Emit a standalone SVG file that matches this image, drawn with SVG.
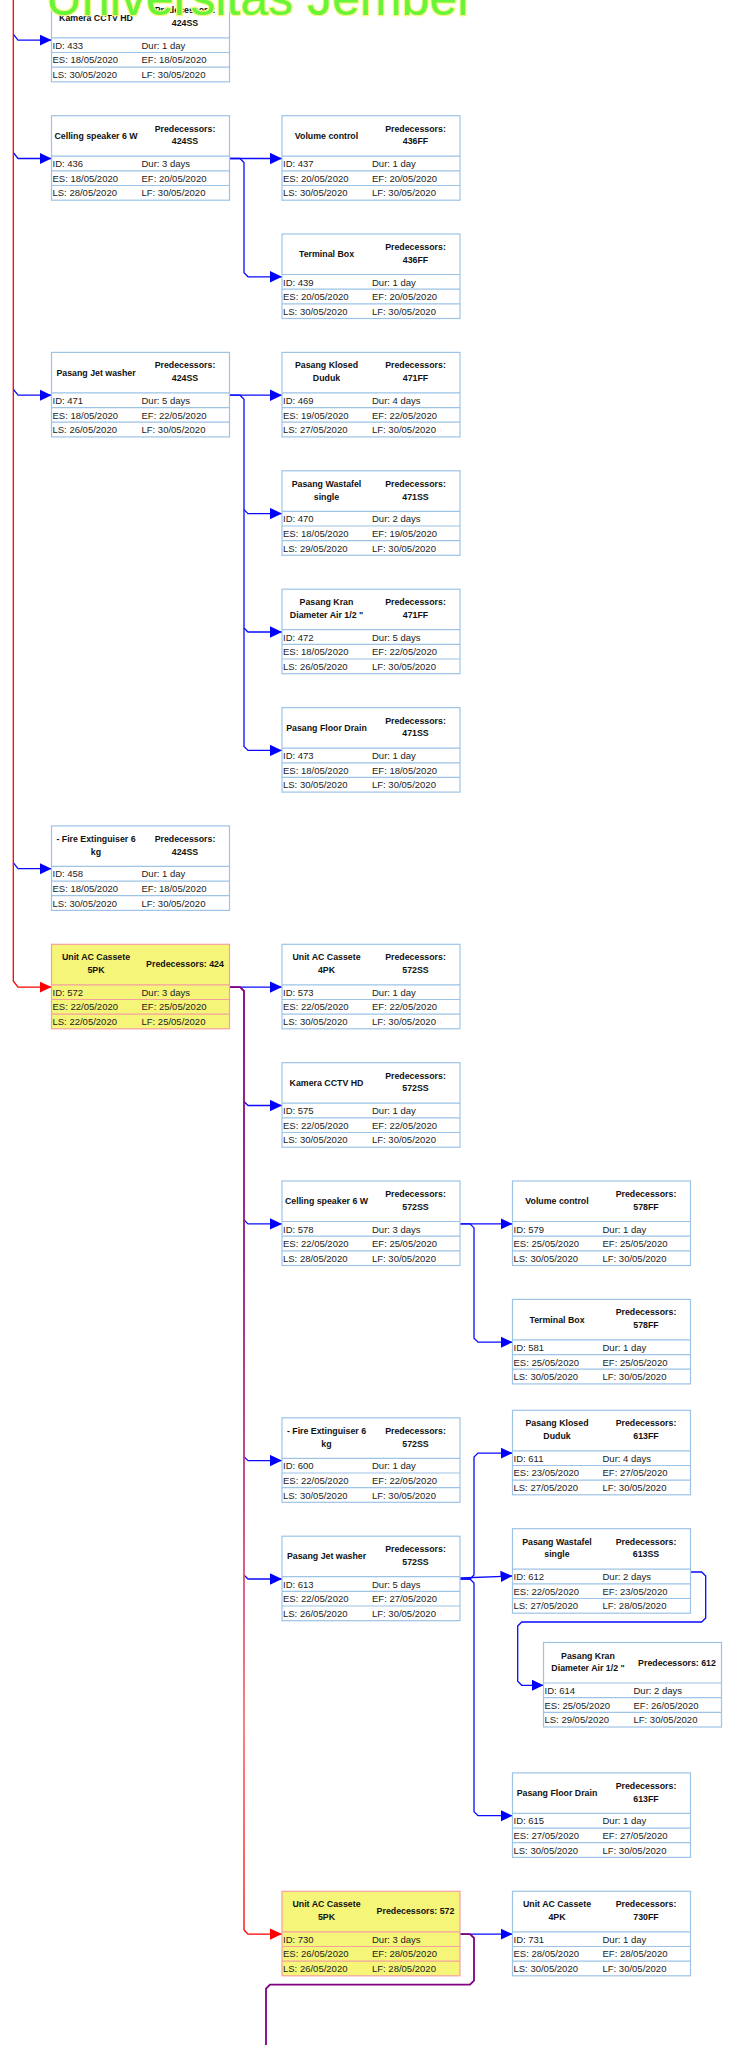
<svg xmlns="http://www.w3.org/2000/svg" width="731" height="2045" viewBox="0 0 731 2045">
<style>
.b{fill:#ffffff;stroke:#9dc3e6;stroke-width:1.2}
.y{fill:#f5f57a;stroke:#f4a0a0;stroke-width:1.2}
.s{fill:none;stroke:#9dc3e6;stroke-width:1.2}
.sy{fill:none;stroke:#f4a0a0;stroke-width:1.2}
.h{font-family:"Liberation Sans",Arial,sans-serif;font-size:8.8px;font-weight:bold;fill:#111;text-anchor:middle}
.t{font-family:"Liberation Sans",Arial,sans-serif;font-size:9.5px;fill:#222}
.cb{fill:none;stroke:#0a0aff;stroke-width:1.3}
.cr{fill:none;stroke:#ff0000;stroke-width:1.3}
.cp{fill:none;stroke:#800080;stroke-width:1.8}
.wm{font-family:"Liberation Sans",Arial,sans-serif;font-size:50px;fill:#66f53a;stroke:#f6f680;stroke-width:2.5;paint-order:stroke}
</style>
<defs>
<marker id="ab" markerUnits="userSpaceOnUse" markerWidth="12" markerHeight="12" refX="12" refY="6" orient="auto"><path d="M0,0.3 L12,6 L0,11.7z" fill="#0000ff"/></marker>
<marker id="ar" markerUnits="userSpaceOnUse" markerWidth="12" markerHeight="12" refX="12" refY="6" orient="auto"><path d="M0,0.3 L12,6 L0,11.7z" fill="#ff0000"/></marker>
<linearGradient id="gp" gradientUnits="userSpaceOnUse" x1="0" y1="991" x2="0" y2="1934">
<stop offset="0" stop-color="#800080"/>
<stop offset="0.3" stop-color="#901a88"/>
<stop offset="0.55" stop-color="#c8407e"/>
<stop offset="0.78" stop-color="#ff7075"/>
<stop offset="1" stop-color="#ff4040"/>
</linearGradient>
</defs>
<rect width="731" height="2045" fill="#ffffff"/>

<g id="connectors">
<path class="cb" d="M13.3,34.1 L18,40.1 H51.5" marker-end="url(#ab)"/>
<path class="cb" d="M13.3,152.5 L18,158.5 H51.5" marker-end="url(#ab)"/>
<path class="cb" d="M13.3,389.2 L18,395.2 H51.5" marker-end="url(#ab)"/>
<path class="cb" d="M13.3,862.7 L18,868.7 H51.5" marker-end="url(#ab)"/>
<path class="cr" d="M13.3,0 V981 L18,987.1 H51.5" marker-end="url(#ar)"/>

<path class="cb" d="M229.5,158.5 H282" marker-end="url(#ab)"/>
<path class="cb" d="M229.5,158.5 H240 L244,162.5 V272.8 L248,276.8 H282" marker-end="url(#ab)"/>

<path class="cb" d="M229.5,395.2 H282" marker-end="url(#ab)"/>
<path class="cb" d="M229.5,395.2 H240 L244,399.2 V509.6 L248,513.6 H282" marker-end="url(#ab)"/>
<path class="cb" d="M244,509.6 V628 L248,632 H282" marker-end="url(#ab)"/>
<path class="cb" d="M244,628 V746.4 L248,750.4 H282" marker-end="url(#ab)"/>

<path class="cb" d="M229.5,987.1 H282" marker-end="url(#ab)"/>
<path class="cb" d="M244,1101.5 L248,1105.5 H282" marker-end="url(#ab)"/>
<path class="cb" d="M244,1219.9 L248,1223.9 H282" marker-end="url(#ab)"/>
<path class="cb" d="M244,1456.6 L248,1460.6 H282" marker-end="url(#ab)"/>
<path class="cb" d="M244,1575 L248,1579 H282" marker-end="url(#ab)"/>
<path fill="none" stroke="url(#gp)" stroke-width="1.8" d="M229.5,987.1 H240 L244,991 V1930"/>
<path class="cr" d="M244,1930 L248,1934.1 H282" marker-end="url(#ar)"/>

<path class="cb" d="M460,1223.9 H512.5" marker-end="url(#ab)"/>
<path class="cb" d="M460,1223.9 H470 L474,1227.9 V1338.2 L478,1342.2 H512.5" marker-end="url(#ab)"/>

<path class="cb" d="M460,1579 H470 L474,1575 V1457.1 L478,1453.1 H512.5" marker-end="url(#ab)"/>
<path class="cb" d="M460,1578 L512.5,1576" marker-end="url(#ab)"/>
<path class="cb" d="M460,1579 H470 L474,1583 V1811.7 L478,1815.7 H512.5" marker-end="url(#ab)"/>
<path class="cb" d="M690.5,1572 H701.7 L705.7,1576 V1618 L701.7,1622 H521.7 L517.7,1626 V1681.3 L521.7,1685.3 H543.5" marker-end="url(#ab)"/>

<path class="cb" d="M460,1934.1 H512.5" marker-end="url(#ab)"/>
<path class="cp" d="M460,1934.1 H470 L474,1938 V1980.7 L470,1984.7 H270 L266,1988.7 V2045"/>
</g>

<g id="n433" transform="translate(51.5,-2.7)">
<rect class="b" width="178" height="84.5"/><path class="s" d="M0,40.5H178M0,55.2H178M0,69.8H178"/>
<text class="h" x="44.5" y="23.3">Kamera CCTV HD</text>
<text class="h" x="133.5" y="16">Predecessors:</text><text class="h" x="133.5" y="28.8">424SS</text>
<text class="t" x="1" y="51.5">ID: 433</text><text class="t" x="90" y="51.5">Dur: 1 day</text>
<text class="t" x="1" y="66.2">ES: 18/05/2020</text><text class="t" x="90" y="66.2">EF: 18/05/2020</text>
<text class="t" x="1" y="80.8">LS: 30/05/2020</text><text class="t" x="90" y="80.8">LF: 30/05/2020</text>
</g>

<g id="n436" transform="translate(51.5,115.7)">
<rect class="b" width="178" height="84.5"/><path class="s" d="M0,40.5H178M0,55.2H178M0,69.8H178"/>
<text class="h" x="44.5" y="23.3">Celling speaker 6 W</text>
<text class="h" x="133.5" y="16">Predecessors:</text><text class="h" x="133.5" y="28.8">424SS</text>
<text class="t" x="1" y="51.5">ID: 436</text><text class="t" x="90" y="51.5">Dur: 3 days</text>
<text class="t" x="1" y="66.2">ES: 18/05/2020</text><text class="t" x="90" y="66.2">EF: 20/05/2020</text>
<text class="t" x="1" y="80.8">LS: 28/05/2020</text><text class="t" x="90" y="80.8">LF: 30/05/2020</text>
</g>

<g id="n437" transform="translate(282,115.7)">
<rect class="b" width="178" height="84.5"/><path class="s" d="M0,40.5H178M0,55.2H178M0,69.8H178"/>
<text class="h" x="44.5" y="23.3">Volume control</text>
<text class="h" x="133.5" y="16">Predecessors:</text><text class="h" x="133.5" y="28.8">436FF</text>
<text class="t" x="1" y="51.5">ID: 437</text><text class="t" x="90" y="51.5">Dur: 1 day</text>
<text class="t" x="1" y="66.2">ES: 20/05/2020</text><text class="t" x="90" y="66.2">EF: 20/05/2020</text>
<text class="t" x="1" y="80.8">LS: 30/05/2020</text><text class="t" x="90" y="80.8">LF: 30/05/2020</text>
</g>

<g id="n439" transform="translate(282,234)">
<rect class="b" width="178" height="84.5"/><path class="s" d="M0,40.5H178M0,55.2H178M0,69.8H178"/>
<text class="h" x="44.5" y="23.3">Terminal Box</text>
<text class="h" x="133.5" y="16">Predecessors:</text><text class="h" x="133.5" y="28.8">436FF</text>
<text class="t" x="1" y="51.5">ID: 439</text><text class="t" x="90" y="51.5">Dur: 1 day</text>
<text class="t" x="1" y="66.2">ES: 20/05/2020</text><text class="t" x="90" y="66.2">EF: 20/05/2020</text>
<text class="t" x="1" y="80.8">LS: 30/05/2020</text><text class="t" x="90" y="80.8">LF: 30/05/2020</text>
</g>

<g id="n471" transform="translate(51.5,352.4)">
<rect class="b" width="178" height="84.5"/><path class="s" d="M0,40.5H178M0,55.2H178M0,69.8H178"/>
<text class="h" x="44.5" y="23.3">Pasang Jet washer</text>
<text class="h" x="133.5" y="16">Predecessors:</text><text class="h" x="133.5" y="28.8">424SS</text>
<text class="t" x="1" y="51.5">ID: 471</text><text class="t" x="90" y="51.5">Dur: 5 days</text>
<text class="t" x="1" y="66.2">ES: 18/05/2020</text><text class="t" x="90" y="66.2">EF: 22/05/2020</text>
<text class="t" x="1" y="80.8">LS: 26/05/2020</text><text class="t" x="90" y="80.8">LF: 30/05/2020</text>
</g>

<g id="n469" transform="translate(282,352.4)">
<rect class="b" width="178" height="84.5"/><path class="s" d="M0,40.5H178M0,55.2H178M0,69.8H178"/>
<text class="h" x="44.5" y="16">Pasang Klosed</text><text class="h" x="44.5" y="28.8">Duduk</text>
<text class="h" x="133.5" y="16">Predecessors:</text><text class="h" x="133.5" y="28.8">471FF</text>
<text class="t" x="1" y="51.5">ID: 469</text><text class="t" x="90" y="51.5">Dur: 4 days</text>
<text class="t" x="1" y="66.2">ES: 19/05/2020</text><text class="t" x="90" y="66.2">EF: 22/05/2020</text>
<text class="t" x="1" y="80.8">LS: 27/05/2020</text><text class="t" x="90" y="80.8">LF: 30/05/2020</text>
</g>

<g id="n470" transform="translate(282,470.8)">
<rect class="b" width="178" height="84.5"/><path class="s" d="M0,40.5H178M0,55.2H178M0,69.8H178"/>
<text class="h" x="44.5" y="16">Pasang Wastafel</text><text class="h" x="44.5" y="28.8">single</text>
<text class="h" x="133.5" y="16">Predecessors:</text><text class="h" x="133.5" y="28.8">471SS</text>
<text class="t" x="1" y="51.5">ID: 470</text><text class="t" x="90" y="51.5">Dur: 2 days</text>
<text class="t" x="1" y="66.2">ES: 18/05/2020</text><text class="t" x="90" y="66.2">EF: 19/05/2020</text>
<text class="t" x="1" y="80.8">LS: 29/05/2020</text><text class="t" x="90" y="80.8">LF: 30/05/2020</text>
</g>

<g id="n472" transform="translate(282,589.2)">
<rect class="b" width="178" height="84.5"/><path class="s" d="M0,40.5H178M0,55.2H178M0,69.8H178"/>
<text class="h" x="44.5" y="16">Pasang Kran</text><text class="h" x="44.5" y="28.8">Diameter Air 1/2 "</text>
<text class="h" x="133.5" y="16">Predecessors:</text><text class="h" x="133.5" y="28.8">471FF</text>
<text class="t" x="1" y="51.5">ID: 472</text><text class="t" x="90" y="51.5">Dur: 5 days</text>
<text class="t" x="1" y="66.2">ES: 18/05/2020</text><text class="t" x="90" y="66.2">EF: 22/05/2020</text>
<text class="t" x="1" y="80.8">LS: 26/05/2020</text><text class="t" x="90" y="80.8">LF: 30/05/2020</text>
</g>

<g id="n473" transform="translate(282,707.6)">
<rect class="b" width="178" height="84.5"/><path class="s" d="M0,40.5H178M0,55.2H178M0,69.8H178"/>
<text class="h" x="44.5" y="23.3">Pasang Floor Drain</text>
<text class="h" x="133.5" y="16">Predecessors:</text><text class="h" x="133.5" y="28.8">471SS</text>
<text class="t" x="1" y="51.5">ID: 473</text><text class="t" x="90" y="51.5">Dur: 1 day</text>
<text class="t" x="1" y="66.2">ES: 18/05/2020</text><text class="t" x="90" y="66.2">EF: 18/05/2020</text>
<text class="t" x="1" y="80.8">LS: 30/05/2020</text><text class="t" x="90" y="80.8">LF: 30/05/2020</text>
</g>

<g id="n458" transform="translate(51.5,825.9)">
<rect class="b" width="178" height="84.5"/><path class="s" d="M0,40.5H178M0,55.2H178M0,69.8H178"/>
<text class="h" x="44.5" y="16">- Fire Extinguiser 6</text><text class="h" x="44.5" y="28.8">kg</text>
<text class="h" x="133.5" y="16">Predecessors:</text><text class="h" x="133.5" y="28.8">424SS</text>
<text class="t" x="1" y="51.5">ID: 458</text><text class="t" x="90" y="51.5">Dur: 1 day</text>
<text class="t" x="1" y="66.2">ES: 18/05/2020</text><text class="t" x="90" y="66.2">EF: 18/05/2020</text>
<text class="t" x="1" y="80.8">LS: 30/05/2020</text><text class="t" x="90" y="80.8">LF: 30/05/2020</text>
</g>

<g id="n572" transform="translate(51.5,944.3)">
<rect class="y" width="178" height="84.5"/><path class="sy" d="M0,40.5H178M0,55.2H178M0,69.8H178"/>
<text class="h" x="44.5" y="16">Unit AC Cassete</text><text class="h" x="44.5" y="28.8">5PK</text>
<text class="h" x="133.5" y="23">Predecessors: 424</text>
<text class="t" x="1" y="51.5">ID: 572</text><text class="t" x="90" y="51.5">Dur: 3 days</text>
<text class="t" x="1" y="66.2">ES: 22/05/2020</text><text class="t" x="90" y="66.2">EF: 25/05/2020</text>
<text class="t" x="1" y="80.8">LS: 22/05/2020</text><text class="t" x="90" y="80.8">LF: 25/05/2020</text>
</g>

<g id="n573" transform="translate(282,944.3)">
<rect class="b" width="178" height="84.5"/><path class="s" d="M0,40.5H178M0,55.2H178M0,69.8H178"/>
<text class="h" x="44.5" y="16">Unit AC Cassete</text><text class="h" x="44.5" y="28.8">4PK</text>
<text class="h" x="133.5" y="16">Predecessors:</text><text class="h" x="133.5" y="28.8">572SS</text>
<text class="t" x="1" y="51.5">ID: 573</text><text class="t" x="90" y="51.5">Dur: 1 day</text>
<text class="t" x="1" y="66.2">ES: 22/05/2020</text><text class="t" x="90" y="66.2">EF: 22/05/2020</text>
<text class="t" x="1" y="80.8">LS: 30/05/2020</text><text class="t" x="90" y="80.8">LF: 30/05/2020</text>
</g>

<g id="n575" transform="translate(282,1062.7)">
<rect class="b" width="178" height="84.5"/><path class="s" d="M0,40.5H178M0,55.2H178M0,69.8H178"/>
<text class="h" x="44.5" y="23.3">Kamera CCTV HD</text>
<text class="h" x="133.5" y="16">Predecessors:</text><text class="h" x="133.5" y="28.8">572SS</text>
<text class="t" x="1" y="51.5">ID: 575</text><text class="t" x="90" y="51.5">Dur: 1 day</text>
<text class="t" x="1" y="66.2">ES: 22/05/2020</text><text class="t" x="90" y="66.2">EF: 22/05/2020</text>
<text class="t" x="1" y="80.8">LS: 30/05/2020</text><text class="t" x="90" y="80.8">LF: 30/05/2020</text>
</g>

<g id="n578" transform="translate(282,1181)">
<rect class="b" width="178" height="84.5"/><path class="s" d="M0,40.5H178M0,55.2H178M0,69.8H178"/>
<text class="h" x="44.5" y="23.3">Celling speaker 6 W</text>
<text class="h" x="133.5" y="16">Predecessors:</text><text class="h" x="133.5" y="28.8">572SS</text>
<text class="t" x="1" y="51.5">ID: 578</text><text class="t" x="90" y="51.5">Dur: 3 days</text>
<text class="t" x="1" y="66.2">ES: 22/05/2020</text><text class="t" x="90" y="66.2">EF: 25/05/2020</text>
<text class="t" x="1" y="80.8">LS: 28/05/2020</text><text class="t" x="90" y="80.8">LF: 30/05/2020</text>
</g>

<g id="n579" transform="translate(512.5,1181)">
<rect class="b" width="178" height="84.5"/><path class="s" d="M0,40.5H178M0,55.2H178M0,69.8H178"/>
<text class="h" x="44.5" y="23.3">Volume control</text>
<text class="h" x="133.5" y="16">Predecessors:</text><text class="h" x="133.5" y="28.8">578FF</text>
<text class="t" x="1" y="51.5">ID: 579</text><text class="t" x="90" y="51.5">Dur: 1 day</text>
<text class="t" x="1" y="66.2">ES: 25/05/2020</text><text class="t" x="90" y="66.2">EF: 25/05/2020</text>
<text class="t" x="1" y="80.8">LS: 30/05/2020</text><text class="t" x="90" y="80.8">LF: 30/05/2020</text>
</g>

<g id="n581" transform="translate(512.5,1299.4)">
<rect class="b" width="178" height="84.5"/><path class="s" d="M0,40.5H178M0,55.2H178M0,69.8H178"/>
<text class="h" x="44.5" y="23.3">Terminal Box</text>
<text class="h" x="133.5" y="16">Predecessors:</text><text class="h" x="133.5" y="28.8">578FF</text>
<text class="t" x="1" y="51.5">ID: 581</text><text class="t" x="90" y="51.5">Dur: 1 day</text>
<text class="t" x="1" y="66.2">ES: 25/05/2020</text><text class="t" x="90" y="66.2">EF: 25/05/2020</text>
<text class="t" x="1" y="80.8">LS: 30/05/2020</text><text class="t" x="90" y="80.8">LF: 30/05/2020</text>
</g>

<g id="n600" transform="translate(282,1417.8)">
<rect class="b" width="178" height="84.5"/><path class="s" d="M0,40.5H178M0,55.2H178M0,69.8H178"/>
<text class="h" x="44.5" y="16">- Fire Extinguiser 6</text><text class="h" x="44.5" y="28.8">kg</text>
<text class="h" x="133.5" y="16">Predecessors:</text><text class="h" x="133.5" y="28.8">572SS</text>
<text class="t" x="1" y="51.5">ID: 600</text><text class="t" x="90" y="51.5">Dur: 1 day</text>
<text class="t" x="1" y="66.2">ES: 22/05/2020</text><text class="t" x="90" y="66.2">EF: 22/05/2020</text>
<text class="t" x="1" y="80.8">LS: 30/05/2020</text><text class="t" x="90" y="80.8">LF: 30/05/2020</text>
</g>

<g id="n611" transform="translate(512.5,1410.3)">
<rect class="b" width="178" height="84.5"/><path class="s" d="M0,40.5H178M0,55.2H178M0,69.8H178"/>
<text class="h" x="44.5" y="16">Pasang Klosed</text><text class="h" x="44.5" y="28.8">Duduk</text>
<text class="h" x="133.5" y="16">Predecessors:</text><text class="h" x="133.5" y="28.8">613FF</text>
<text class="t" x="1" y="51.5">ID: 611</text><text class="t" x="90" y="51.5">Dur: 4 days</text>
<text class="t" x="1" y="66.2">ES: 23/05/2020</text><text class="t" x="90" y="66.2">EF: 27/05/2020</text>
<text class="t" x="1" y="80.8">LS: 27/05/2020</text><text class="t" x="90" y="80.8">LF: 30/05/2020</text>
</g>

<g id="n613" transform="translate(282,1536.2)">
<rect class="b" width="178" height="84.5"/><path class="s" d="M0,40.5H178M0,55.2H178M0,69.8H178"/>
<text class="h" x="44.5" y="23.3">Pasang Jet washer</text>
<text class="h" x="133.5" y="16">Predecessors:</text><text class="h" x="133.5" y="28.8">572SS</text>
<text class="t" x="1" y="51.5">ID: 613</text><text class="t" x="90" y="51.5">Dur: 5 days</text>
<text class="t" x="1" y="66.2">ES: 22/05/2020</text><text class="t" x="90" y="66.2">EF: 27/05/2020</text>
<text class="t" x="1" y="80.8">LS: 26/05/2020</text><text class="t" x="90" y="80.8">LF: 30/05/2020</text>
</g>

<g id="n612" transform="translate(512.5,1528.7)">
<rect class="b" width="178" height="84.5"/><path class="s" d="M0,40.5H178M0,55.2H178M0,69.8H178"/>
<text class="h" x="44.5" y="16">Pasang Wastafel</text><text class="h" x="44.5" y="28.8">single</text>
<text class="h" x="133.5" y="16">Predecessors:</text><text class="h" x="133.5" y="28.8">613SS</text>
<text class="t" x="1" y="51.5">ID: 612</text><text class="t" x="90" y="51.5">Dur: 2 days</text>
<text class="t" x="1" y="66.2">ES: 22/05/2020</text><text class="t" x="90" y="66.2">EF: 23/05/2020</text>
<text class="t" x="1" y="80.8">LS: 27/05/2020</text><text class="t" x="90" y="80.8">LF: 28/05/2020</text>
</g>

<g id="n614" transform="translate(543.5,1642.5)">
<rect class="b" width="178" height="84.5"/><path class="s" d="M0,40.5H178M0,55.2H178M0,69.8H178"/>
<text class="h" x="44.5" y="16">Pasang Kran</text><text class="h" x="44.5" y="28.8">Diameter Air 1/2 "</text>
<text class="h" x="133.5" y="23">Predecessors: 612</text>
<text class="t" x="1" y="51.5">ID: 614</text><text class="t" x="90" y="51.5">Dur: 2 days</text>
<text class="t" x="1" y="66.2">ES: 25/05/2020</text><text class="t" x="90" y="66.2">EF: 26/05/2020</text>
<text class="t" x="1" y="80.8">LS: 29/05/2020</text><text class="t" x="90" y="80.8">LF: 30/05/2020</text>
</g>

<g id="n615" transform="translate(512.5,1772.9)">
<rect class="b" width="178" height="84.5"/><path class="s" d="M0,40.5H178M0,55.2H178M0,69.8H178"/>
<text class="h" x="44.5" y="23.3">Pasang Floor Drain</text>
<text class="h" x="133.5" y="16">Predecessors:</text><text class="h" x="133.5" y="28.8">613FF</text>
<text class="t" x="1" y="51.5">ID: 615</text><text class="t" x="90" y="51.5">Dur: 1 day</text>
<text class="t" x="1" y="66.2">ES: 27/05/2020</text><text class="t" x="90" y="66.2">EF: 27/05/2020</text>
<text class="t" x="1" y="80.8">LS: 30/05/2020</text><text class="t" x="90" y="80.8">LF: 30/05/2020</text>
</g>

<g id="n730" transform="translate(282,1891.3)">
<rect class="y" width="178" height="84.5"/><path class="sy" d="M0,40.5H178M0,55.2H178M0,69.8H178"/>
<text class="h" x="44.5" y="16">Unit AC Cassete</text><text class="h" x="44.5" y="28.8">5PK</text>
<text class="h" x="133.5" y="23">Predecessors: 572</text>
<text class="t" x="1" y="51.5">ID: 730</text><text class="t" x="90" y="51.5">Dur: 3 days</text>
<text class="t" x="1" y="66.2">ES: 26/05/2020</text><text class="t" x="90" y="66.2">EF: 28/05/2020</text>
<text class="t" x="1" y="80.8">LS: 26/05/2020</text><text class="t" x="90" y="80.8">LF: 28/05/2020</text>
</g>

<g id="n731" transform="translate(512.5,1891.3)">
<rect class="b" width="178" height="84.5"/><path class="s" d="M0,40.5H178M0,55.2H178M0,69.8H178"/>
<text class="h" x="44.5" y="16">Unit AC Cassete</text><text class="h" x="44.5" y="28.8">4PK</text>
<text class="h" x="133.5" y="16">Predecessors:</text><text class="h" x="133.5" y="28.8">730FF</text>
<text class="t" x="1" y="51.5">ID: 731</text><text class="t" x="90" y="51.5">Dur: 1 day</text>
<text class="t" x="1" y="66.2">ES: 28/05/2020</text><text class="t" x="90" y="66.2">EF: 28/05/2020</text>
<text class="t" x="1" y="80.8">LS: 30/05/2020</text><text class="t" x="90" y="80.8">LF: 30/05/2020</text>
</g>

<text class="wm" x="46" y="15">Universitas Jember</text>
</svg>
